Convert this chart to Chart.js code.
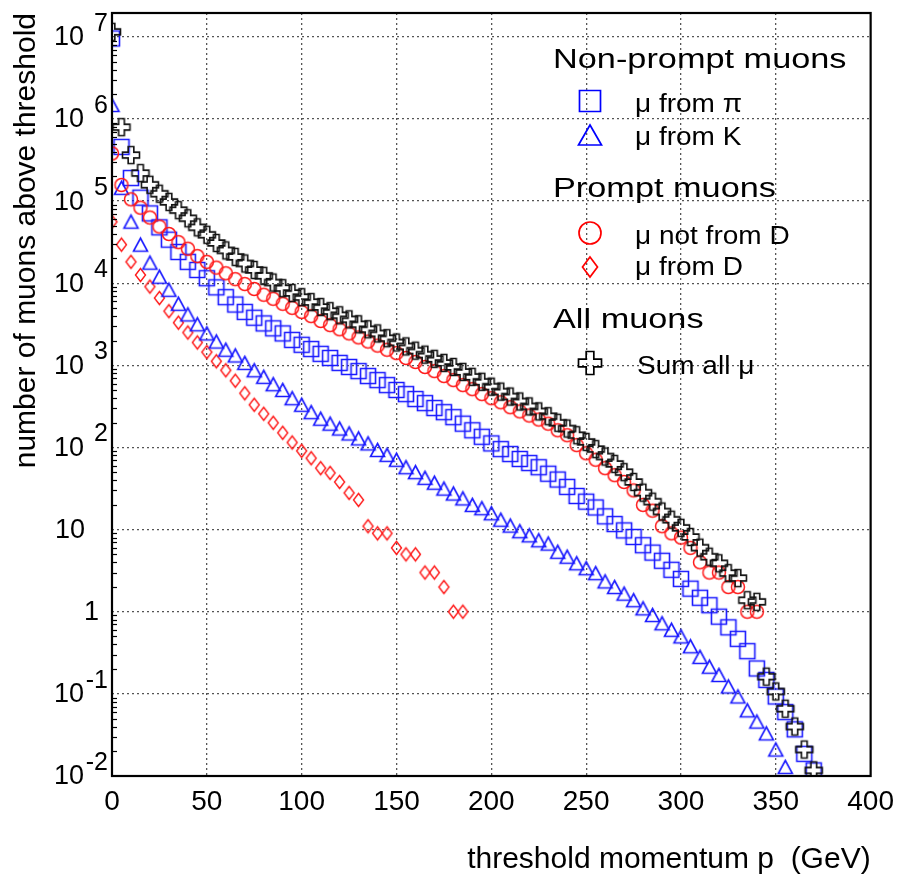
<!DOCTYPE html>
<html>
<head>
<meta charset="utf-8">
<script src="https://cdn.jsdelivr.net/npm/chart.js@4"></script>
<style>
html,body{margin:0;padding:0;background:#fff;}
canvas{display:block;}
</style>
</head>
<body>
<canvas id="c" width="903" height="882"></canvas>
<script>
// ---------------- data ----------------
const thresholds = [0,5,10,15,20,25,30,35,40,45,50,55,60,65,70,75,80,85,90,95,100,105,110,115,120,125,130,135,140,145,150,155,160,165,170,175,180,185,190,195,200,205,210,215,220,225,230,235,240,245,250,255,260,265,270,275,280,285,290,295,300,305,310,315,320,325,330,335,340,345,350,355,360,365,370];

const muFromPi = [9.55e6,4.57e5,1.91e5,1.10e5,7.08e4,4.79e4,3.39e4,2.40e4,1.82e4,1.45e4,
  1.15e4,8910,6760,5500,4470,3800,3240,2820,2450,2040,
  1780,1580,1380,1230,1070,955,851,741,661,575,
  501,447,389,347,302,269,234,195,162,135,
  112,95.5,83.2,72.4,64.6,57.5,47.9,40.7,33.1,25.7,
  21.9,18.6,14.5,11.7,9.77,8.13,6.46,5.25,4.17,3.24,
  2.51,1.91,1.48,1.20,0.871,0.646,0.468,0.331,0.204,0.148,
  0.093,0.060,0.037,0.0186,0.0117];

const muFromK = [1.48e6,1.45e5,5.62e4,2.95e4,1.78e4,1.20e4,8320,5620,4170,3160,
  2450,1950,1550,1320,1070,871,724,589,501,398,
  331,269,224,195,170,148,129,112,93.3,81.3,
  70.8,57.5,50.1,42.7,37.2,31.6,27.5,24.0,20.0,18.2,
  15.8,13.2,11.2,9.55,8.51,7.41,6.76,5.37,4.68,3.89,
  3.39,2.95,2.34,2.00,1.66,1.38,1.10,0.912,0.724,0.603,
  0.501,0.380,0.282,0.214,0.170,0.123,0.093,0.063,0.046,0.033,
  0.021,0.0129];

const muNotFromD = [3.80e5,1.57e5,1.05e5,8.32e4,6.31e4,4.90e4,3.98e4,3.16e4,2.63e4,2.14e4,
  1.82e4,1.55e4,1.32e4,1.12e4,9770,8510,7240,6460,5620,5010,
  4470,3980,3470,3090,2750,2450,2190,1950,1740,1550,
  1410,1230,1100,955,851,741,661,575,513,447,
  398,355,309,275,245,219,195,162,141,107,
  85,71,56,46,38,30,20,17,11,9,
  8,6,4,3,3,2,2,1,1];

const muFromD = [56000,29500,18200,12600,9100,6600,4570,3310,2510,1900,
  1450,1120,870,650,457,331,257,200,151,115,
  91,74,56,49,38,28,23,11,9,9,
  6,5,5,3,3,2,1,1];

const sumAllMu = [1.15e7,7.94e5,3.63e5,2.19e5,1.58e5,1.23e5,9.77e4,7.76e4,6.17e4,4.79e4,
  3.89e4,3.09e4,2.51e4,2.09e4,1.74e4,1.45e4,1.23e4,1.02e4,8710,7590,
  6760,5890,5130,4570,4070,3630,3160,2750,2450,2140,
  1900,1700,1510,1350,1200,1070,955,832,724,631,
  550,479,417,363,316,275,240,200,170,141,
  117,95.5,77.6,63.1,50.1,38.0,28.2,21.9,16.6,13.2,
  10.5,8.13,6.03,4.68,3.89,2.95,2.57,1.38,1.32,0.162,
  0.107,0.066,0.040,0.021,0.0117];

const xTickValues = [0,50,100,150,200,250,300,350,400];
const yDecades   = [0.01,0.1,1,10,100,1000,10000,100000,1000000,10000000];
const yTickBase  = ['10','10','1','10','10','10','10','10','10','10'];
const yTickExp   = ['-2','-1','','','2','3','4','5','6','7'];
const xAxisTitle = 'threshold momentum p  (GeV)';
const yAxisTitle = 'number of muons above threshold';

const legendHeadings = ['Non-prompt muons','Prompt muons','All muons'];
const legendEntries = [
  {heading:0, label:'\u03bc from \u03c0', kind:'square',   color:'#0000ff'},
  {heading:0, label:'\u03bc from K',      kind:'triangle', color:'#0000ff'},
  {heading:1, label:'\u03bc not from D',  kind:'circle',   color:'#ff0000'},
  {heading:1, label:'\u03bc from D',      kind:'diamond',  color:'#ff0000'},
  {heading:2, label:'Sum all \u03bc',     kind:'cross',    color:'#000000'}
];

// ---------------- styling ----------------
const FONT = "'Liberation Sans', Arial, Helvetica, sans-serif";
Chart.defaults.font.family = FONT;
Chart.defaults.color = '#000';

function markerPath(g, kind, cx, cy, w, h) {
  g.beginPath();
  if (kind === 'cross') {
    const a = w/2, b = w/6;
    g.moveTo(cx-b,cy-a); g.lineTo(cx+b,cy-a); g.lineTo(cx+b,cy-b); g.lineTo(cx+a,cy-b);
    g.lineTo(cx+a,cy+b); g.lineTo(cx+b,cy+b); g.lineTo(cx+b,cy+a); g.lineTo(cx-b,cy+a);
    g.lineTo(cx-b,cy+b); g.lineTo(cx-a,cy+b); g.lineTo(cx-a,cy-b); g.lineTo(cx-b,cy-b);
    g.closePath();
  } else if (kind === 'diamond') {
    g.moveTo(cx,cy-h/2); g.lineTo(cx+w/2,cy); g.lineTo(cx,cy+h/2); g.lineTo(cx-w/2,cy); g.closePath();
  } else if (kind === 'square') {
    g.rect(cx-w/2, cy-h/2, w, h);
  } else if (kind === 'triangle') {
    g.moveTo(cx,cy-h/2); g.lineTo(cx+w/2,cy+h/2); g.lineTo(cx-w/2,cy+h/2); g.closePath();
  } else if (kind === 'circle') {
    g.ellipse(cx, cy, w/2, h/2, 0, 0, Math.PI*2);
  }
}
function markerCanvas(kind, w, h, color, lw) {
  const c = document.createElement('canvas');
  c.width = Math.ceil(w + lw + 3); c.height = Math.ceil(h + lw + 3);
  const g = c.getContext('2d');
  g.strokeStyle = color; g.lineWidth = lw; g.lineJoin = 'miter';
  markerPath(g, kind, c.width/2, c.height/2, w, h);
  g.stroke();
  return c;
}

const imgSquare   = markerCanvas('square',   15, 15, '#1a1aff', 1.6);
const imgTriangle = markerCanvas('triangle', 14, 13, '#1a1aff', 1.6);
const imgCircle   = markerCanvas('circle',   13, 13, '#ff1a1a', 1.5);
const imgDiamond  = markerCanvas('diamond',  10, 13, '#ff1a1a', 1.4);
const imgCross    = markerCanvas('cross',    17, 17, '#111111', 1.6);

function series(label, ys, img, order) {
  return {
    label: label,
    data: ys.map((v, i) => ({x: thresholds[i], y: v})),
    showLine: false,
    pointStyle: img,
    pointRadius: 8,
    pointHoverRadius: 8,
    pointBorderWidth: 1.5,
    borderColor: 'rgba(0,0,0,0)',
    backgroundColor: 'rgba(0,0,0,0)',
    order: order
  };
}

const decor = {
  id: 'decor',
  afterDatasetsDraw(chart) {
    const ctx = chart.ctx;
    const a = chart.chartArea;
    const ys = chart.scales.y;
    ctx.save();
    ctx.strokeStyle = '#000'; ctx.lineWidth = 1.2;
    for (const d of yDecades) {
      for (let m = 2; m <= 9; m++) {
        const v = m * d;
        if (v > ys.max) continue;
        const py = Math.round(ys.getPixelForValue(v)) + 0.5;
        ctx.beginPath(); ctx.moveTo(a.left, py); ctx.lineTo(a.left + 5, py); ctx.stroke();
      }
    }
    ctx.lineWidth = 2.2;
    ctx.strokeStyle = '#000';
    ctx.strokeRect(a.left, a.top, a.right - a.left, a.bottom - a.top);
    ctx.restore();
  },
  afterDraw(chart) {
    const ctx = chart.ctx;
    const ys = chart.scales.y;
    ctx.save();
    ctx.fillStyle = '#000';
    ctx.textBaseline = 'middle';
    for (let i = 0; i < yDecades.length; i++) {
      const py = ys.getPixelForValue(yDecades[i]);
      ctx.textAlign = 'right';
      ctx.font = '27px ' + FONT;
      if (yTickExp[i] === '') {
        const xr = yTickBase[i] === '1' ? 99 : 85;
        ctx.fillText(yTickBase[i], xr, py + 1);
      } else {
        ctx.fillText(yTickBase[i], 84, py + 1);
        ctx.font = '25px ' + FONT;
        ctx.fillText(yTickExp[i], 108, py - 13);
      }
    }
    ctx.textAlign = 'left';
    ctx.textBaseline = 'alphabetic';
    const headY = [68, 196.5, 328];
    const entryY = [111.5, 145, 243.5, 275, 373.5];
    const markY = [101, 135, 233, 267, 363];
    const sizes = {square:[21,21], triangle:[23,20], circle:[22,22], diamond:[15,20], cross:[23,23]};
    for (let h = 0; h < legendHeadings.length; h++) {
      ctx.save();
      ctx.font = '27px ' + FONT;
      ctx.translate(553, headY[h]);
      ctx.scale(1.27, 1);
      ctx.fillText(legendHeadings[h], 0, 0);
      ctx.restore();
    }
    for (let k = 0; k < legendEntries.length; k++) {
      const e = legendEntries[k];
      const s = sizes[e.kind];
      ctx.save();
      ctx.strokeStyle = e.color; ctx.lineWidth = 1.7;
      markerPath(ctx, e.kind, 590, markY[k], s[0], s[1]);
      ctx.stroke();
      ctx.restore();
      ctx.save();
      ctx.font = '25px ' + FONT;
      ctx.translate(e.kind === 'cross' ? 637 : 635, entryY[k]);
      ctx.scale(1.12, 1);
      ctx.fillText(e.label, 0, 0);
      ctx.restore();
    }
    ctx.restore();
  }
};

new Chart(document.getElementById('c'), {
  type: 'scatter',
  data: {
    datasets: [
      series('Sum all \u03bc', sumAllMu, imgCross, 0),
      series('\u03bc not from D', muNotFromD, imgCircle, 1),
      series('\u03bc from \u03c0', muFromPi, imgSquare, 2),
      series('\u03bc from K', muFromK, imgTriangle, 3),
      series('\u03bc from D', muFromD, imgDiamond, 4)
    ]
  },
  options: {
    responsive: false,
    animation: false,
    events: [],
    layout: {padding: {left: 0, right: 26, top: 13, bottom: 0}},
    plugins: {legend: {display: false}, tooltip: {enabled: false}, title: {display: false}},
    scales: {
      x: {
        type: 'linear', min: 0, max: 400,
        afterBuildTicks: s => { s.ticks = xTickValues.map(v => ({value: v})); },
        afterFit: s => { s.height = 106; },
        ticks: {font: {family: FONT, size: 28}, color: '#000', padding: 9, maxRotation: 0, autoSkip: false},
        grid: {
          color: c => (c.tick && c.tick.value > 0 && c.tick.value < 400) ? '#555' : 'rgba(0,0,0,0)',
          lineWidth: 1.3, drawTicks: false
        },
        border: {display: false, dash: [2, 3]},
        title: {display: true, text: xAxisTitle, align: 'end', color: '#000',
                font: {family: FONT, size: 30}, padding: {top: 0, bottom: 4}}
      },
      y: {
        type: 'logarithmic', min: 0.01, max: 1.95e7,
        afterBuildTicks: s => { s.ticks = yDecades.map(v => ({value: v})); },
        afterFit: s => { s.width = 112; },
        ticks: {display: false},
        grid: {
          color: c => (c.tick && c.tick.value > 0.011 && c.tick.value < 1.9e7) ? '#555' : 'rgba(0,0,0,0)',
          lineWidth: 1.3, drawTicks: false
        },
        border: {display: false, dash: [2, 3]},
        title: {display: true, text: yAxisTitle, align: 'end', color: '#000',
                font: {family: FONT, size: 30}, padding: {top: 9, bottom: 0}}
      }
    }
  },
  plugins: [decor]
});
</script>
</body>
</html>
